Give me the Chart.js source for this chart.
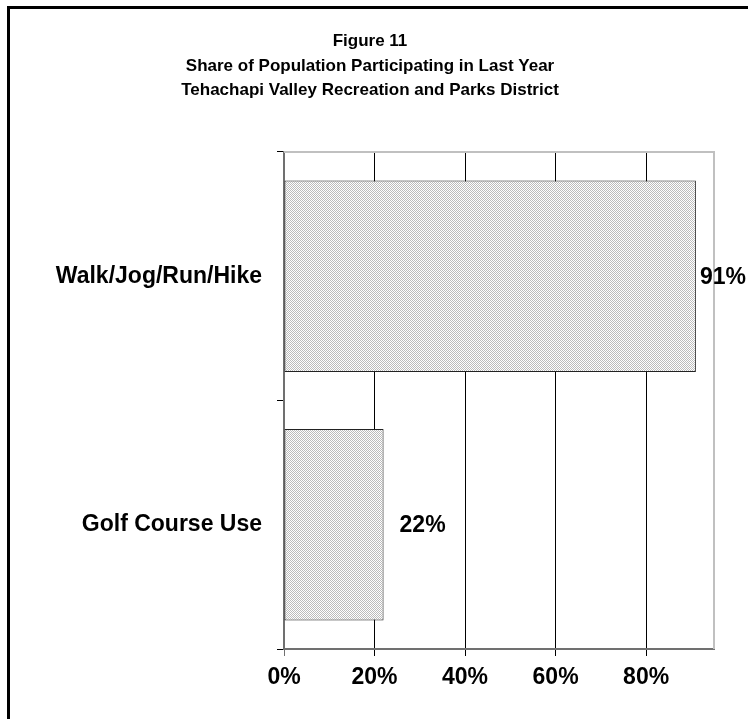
<!DOCTYPE html>
<html>
<head>
<meta charset="utf-8">
<script src="https://cdn.jsdelivr.net/npm/chart.js@4.4.1/dist/chart.umd.min.js"></script>
<style>
  html, body { margin: 0; padding: 0; background: #ffffff; }
  #wrap { width: 748px; height: 719px; position: relative; }
</style>
</head>
<body>
<div id="wrap"><canvas id="c" width="748" height="719"></canvas></div>
<script>
// ---- data ----
const categories = ["Walk/Jog/Run/Hike", "Golf Course Use"];
const shareValues = [91, 22];
const titleLines = [
  "Figure 11",
  "Share of Population Participating in Last Year",
  "Tehachapi Valley Recreation and Parks District"
];
const axisMin = 0;
const axisMax = 95;
const axisStep = 20;

// ---- dotted fill pattern ----
function makePattern() {
  const p = document.createElement('canvas');
  p.width = 2; p.height = 2;
  const g = p.getContext('2d');
  g.fillStyle = '#ffffff';
  g.fillRect(0, 0, 2, 2);
  g.fillStyle = '#bcbcbc';
  g.fillRect(0, 0, 1, 1);
  g.fillRect(1, 1, 1, 1);
  return g.createPattern(p, 'repeat');
}

const FONT = "'Liberation Sans', Arial, Helvetica, sans-serif";

const framePlugin = {
  id: 'frame',
  beforeDraw(chart) {
    const ctx = chart.ctx;
    ctx.save();
    ctx.fillStyle = '#ffffff';
    ctx.fillRect(0, 0, chart.width, chart.height);
    ctx.strokeStyle = '#000000';
    ctx.lineWidth = 3;
    ctx.strokeRect(8.5, 7.5, 900, 900);
    ctx.restore();
  },
  beforeDatasetsDraw(chart) {
    const a = chart.chartArea;
    const ctx = chart.ctx;
    ctx.save();
    ctx.strokeStyle = '#c0c0c0';
    ctx.lineWidth = 2;
    ctx.beginPath();
    ctx.moveTo(a.left, a.top);
    ctx.lineTo(a.right, a.top);
    ctx.lineTo(a.right, a.bottom);
    ctx.stroke();
    ctx.restore();
  }
};

const labelPlugin = {
  id: 'valueLabels',
  afterDatasetsDraw(chart) {
    const ctx = chart.ctx;
    const meta = chart.getDatasetMeta(0);
    ctx.save();
    ctx.font = "bold 23px " + FONT;
    ctx.fillStyle = '#000000';
    ctx.textAlign = 'left';
    ctx.textBaseline = 'middle';
    meta.data.forEach((bar, i) => {
      const txt = shareValues[i] + '%';
      const w = ctx.measureText(txt).width;
      let x = bar.x + 16;
      if (x + w > chart.width - 2) x = chart.width - 2 - w;
      ctx.fillText(txt, x, bar.y + 1);
    });
    ctx.restore();
  }
};

const ctx = document.getElementById('c').getContext('2d');
new Chart(ctx, {
  type: 'bar',
  data: {
    labels: categories,
    datasets: [{
      data: shareValues,
      backgroundColor: makePattern(),
      borderColor: '#222222',
      borderWidth: 1,
      borderSkipped: false,
      categoryPercentage: 1.0,
      barPercentage: 0.77
    }]
  },
  options: {
    indexAxis: 'y',
    responsive: false,
    animation: false,
    devicePixelRatio: 1,
    layout: { padding: { left: 26, right: 34, top: 0, bottom: 0 } },
    plugins: {
      legend: { display: false },
      tooltip: { enabled: false },
      title: {
        display: true,
        text: titleLines,
        color: '#000000',
        font: { family: FONT, size: 17, weight: 'bold', lineHeight: 1.45 },
        padding: { top: 29, bottom: 49 }
      }
    },
    scales: {
      x: {
        type: 'linear',
        min: axisMin,
        max: axisMax,
        afterFit(scale) { scale.height = 70; },
        ticks: {
          stepSize: axisStep,
          includeBounds: false,
          color: '#000000',
          font: { family: FONT, size: 23, weight: 'bold' },
          padding: 8,
          maxRotation: 0,
          callback: (v) => v + '%'
        },
        grid: {
          color: (c) => (c.tick && c.tick.value === 0) ? '#707070' : '#000000',
          lineWidth: 1,
          drawTicks: true,
          tickLength: 7
        },
        border: { display: true, color: '#707070', width: 2 }
      },
      y: {
        type: 'category',
        afterFit(scale) { scale.width = 258; },
        ticks: {
          color: '#000000',
          font: { family: FONT, size: 23, weight: 'bold' },
          padding: 15
        },
        grid: {
          offset: true,
          drawOnChartArea: false,
          drawTicks: true,
          tickLength: 7,
          color: '#000000',
          lineWidth: 1
        },
        border: { display: true, color: '#707070', width: 2 }
      }
    }
  },
  plugins: [framePlugin, labelPlugin]
});
</script>
</body>
</html>
